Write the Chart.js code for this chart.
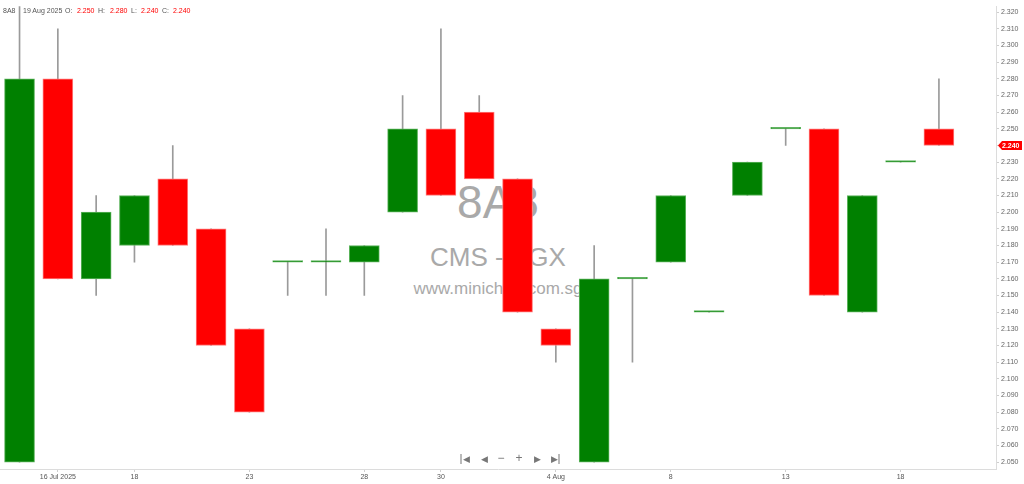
<!DOCTYPE html>
<html>
<head>
<meta charset="utf-8">
<title>8A8 CMS - SGX</title>
<script src="https://cdn.jsdelivr.net/npm/chart.js@4.4.1/dist/chart.umd.min.js"></script>
<style>
    html, body { margin: 0; padding: 0; background: #fff; }
    #wrap { position: relative; width: 1024px; height: 484px; overflow: hidden; font-family: "Liberation Sans", Arial, sans-serif; }
    #chart { position: absolute; left: 0; top: 0; z-index: 1; }
    .wm { position: absolute; left: 0; width: 996px; text-align: center; color: #a9a9a9; white-space: nowrap; z-index: 0; }
    .hd { position: absolute; top: 6px; font-size: 7px; line-height: 10px; color: #555; z-index: 2; white-space: nowrap; }
    .hd.val { color: #ff0000; }
    .nav { position: absolute; top: 454px; font-size: 9px; line-height: 10px; color: #777; z-index: 2; transform: translateX(-50%); }
    .nav.big { font-size: 12px; top: 453px; }
    .nav.bar-l { border-left: 1.5px solid #777; padding-left: 1px; }
    .nav.bar-r { border-right: 1.5px solid #777; padding-right: 1px; }
</style>
</head>
<body>
<div id="wrap">
    <div class="wm" style="top:179px;font-size:46px;line-height:46px;">8A8</div>
    <div class="wm" style="top:244px;font-size:26px;line-height:26px;">CMS - SGX</div>
    <div class="wm" style="top:280px;font-size:17px;line-height:17px;">www.minichart.com.sg</div>

    <span class="hd" style="left:3px;">8A8</span>
    <span class="hd" id="hd-date" style="left:23px;"></span>
    <span class="hd" style="left:65px;">O:</span>
    <span class="hd val" id="hd-o" style="left:77px;"></span>
    <span class="hd" style="left:98px;">H:</span>
    <span class="hd val" id="hd-h" style="left:110px;"></span>
    <span class="hd" style="left:131px;">L:</span>
    <span class="hd val" id="hd-l" style="left:141px;"></span>
    <span class="hd" style="left:162px;">C:</span>
    <span class="hd val" id="hd-c" style="left:173px;"></span>

    <span class="nav bar-l" style="left:465px;">◀</span>
    <span class="nav" style="left:484px;">◀</span>
    <span class="nav big" style="left:501px;">−</span>
    <span class="nav big" style="left:519px;">+</span>
    <span class="nav" style="left:537px;">▶</span>
    <span class="nav bar-r" style="left:555px;">▶</span>

    <canvas id="chart" width="1024" height="484"></canvas>
</div>
<script>
    // Daily candles, 15 Jul - 19 Aug 2025
    const dates = ['15 Jul', '16 Jul', '17 Jul', '18 Jul', '21 Jul', '22 Jul', '23 Jul', '24 Jul', '25 Jul',
        '28 Jul', '29 Jul', '30 Jul', '31 Jul', '1 Aug', '4 Aug', '5 Aug', '6 Aug', '8 Aug', '11 Aug',
        '12 Aug', '13 Aug', '14 Aug', '15 Aug', '18 Aug', '19 Aug'];
    const opens  = [2.050, 2.280, 2.160, 2.180, 2.220, 2.190, 2.130, 2.170, 2.170, 2.170, 2.200, 2.250, 2.260,
        2.220, 2.130, 2.050, 2.160, 2.170, 2.140, 2.210, 2.250, 2.250, 2.140, 2.230, 2.250];
    const highs  = [2.330, 2.310, 2.210, 2.210, 2.240, 2.190, 2.130, 2.170, 2.190, 2.180, 2.270, 2.310, 2.270,
        2.220, 2.130, 2.180, 2.160, 2.210, 2.140, 2.230, 2.250, 2.250, 2.210, 2.230, 2.280];
    const lows   = [2.050, 2.160, 2.150, 2.170, 2.180, 2.120, 2.080, 2.150, 2.150, 2.150, 2.200, 2.210, 2.220,
        2.140, 2.110, 2.050, 2.110, 2.170, 2.140, 2.210, 2.240, 2.150, 2.140, 2.230, 2.240];
    const closes = [2.280, 2.160, 2.200, 2.210, 2.180, 2.120, 2.080, 2.170, 2.170, 2.180, 2.250, 2.210, 2.220,
        2.140, 2.120, 2.160, 2.160, 2.210, 2.140, 2.230, 2.250, 2.150, 2.210, 2.230, 2.240];

    // Axis labels
    const xTickIndex  = [1, 3, 6, 9, 11, 14, 17, 20, 23];
    const xTickLabels = ['16 Jul 2025', '18', '23', '28', '30', '4 Aug', '8', '13', '18'];
    const yTickLabels = ['2.050', '2.060', '2.070', '2.080', '2.090', '2.100', '2.110', '2.120', '2.130', '2.140',
        '2.150', '2.160', '2.170', '2.180', '2.190', '2.200', '2.210', '2.220', '2.230', '2.240',
        '2.250', '2.260', '2.270', '2.280', '2.290', '2.300', '2.310', '2.320'];

    const GREEN = '#008000';
    const RED = '#ff0000';
    const FONT = '"Liberation Sans", Arial, sans-serif';
    const last = dates.length - 1;

    // header line
    document.getElementById('hd-date').textContent = dates[last] + ' 2025';
    document.getElementById('hd-o').textContent = opens[last].toFixed(3);
    document.getElementById('hd-h').textContent = highs[last].toFixed(3);
    document.getElementById('hd-l').textContent = lows[last].toFixed(3);
    document.getElementById('hd-c').textContent = closes[last].toFixed(3);

    const isUp = dates.map((d, i) => closes[i] >= opens[i]);

    // red tag with the last close on the price axis
    const lastPriceTag = {
        id: 'lastPriceTag',
        afterDraw(chart) {
            const ctx = chart.ctx;
            const y = chart.scales.y.getPixelForValue(closes[last]);
            const x0 = chart.chartArea.right + 2;
            ctx.save();
            ctx.fillStyle = RED;
            ctx.beginPath();
            ctx.moveTo(x0, y);
            ctx.lineTo(x0 + 4, y - 4.5);
            ctx.lineTo(x0 + 24, y - 4.5);
            ctx.lineTo(x0 + 24, y + 4.5);
            ctx.lineTo(x0 + 4, y + 4.5);
            ctx.closePath();
            ctx.fill();
            ctx.fillStyle = '#fff';
            ctx.font = 'bold 7px ' + FONT;
            ctx.textBaseline = 'middle';
            ctx.fillText(closes[last].toFixed(3), x0 + 4, y + 0.5);
            ctx.restore();
        }
    };

    new Chart(document.getElementById('chart'), {
        type: 'bar',
        data: {
            datasets: [
                {
                    label: 'Body',
                    data: dates.map((d, i) => ({ x: i, y: [opens[i], closes[i]] })),
                    backgroundColor: isUp.map(u => u ? GREEN : RED),
                    borderColor: isUp.map(u => u ? '#5cb35c' : '#ff7a7a'),
                    borderWidth: 1,
                    borderSkipped: false,
                    barThickness: 30,
                    minBarLength: 1.5,
                    grouped: false,
                    order: 1
                },
                {
                    label: 'Wick',
                    data: dates.map((d, i) => ({ x: i, y: [lows[i], highs[i]] })),
                    backgroundColor: '#9a9a9a',
                    borderWidth: 0,
                    barThickness: 1,
                    grouped: false,
                    order: 2
                }
            ]
        },
        options: {
            responsive: false,
            animation: false,
            layout: { padding: 0 },
            plugins: {
                legend: { display: false },
                tooltip: { enabled: false }
            },
            scales: {
                x: {
                    type: 'linear',
                    min: -0.51,
                    max: 25.49,
                    offset: false,
                    afterBuildTicks: s => { s.ticks = xTickIndex.map(v => ({ value: v })); },
                    afterFit: s => { s.height = 15; },
                    ticks: {
                        autoSkip: false,
                        maxRotation: 0,
                        padding: 1,
                        color: '#555',
                        font: { size: 7, family: FONT },
                        callback: (v) => xTickLabels[xTickIndex.indexOf(v)]
                    },
                    grid: { drawOnChartArea: false, offset: false, tickLength: 3, color: '#cfcfcf' },
                    border: { color: '#dcdcdc' }
                },
                y: {
                    position: 'right',
                    min: 2.0459,
                    max: 2.3236,
                    afterBuildTicks: s => { s.ticks = yTickLabels.map(t => ({ value: parseFloat(t) })); },
                    afterFit: s => { s.width = 28; },
                    ticks: {
                        padding: 2,
                        color: '#666',
                        font: { size: 7, family: FONT },
                        callback: (v) => v.toFixed(3)
                    },
                    grid: { drawOnChartArea: false, tickLength: 3, color: '#cfcfcf' },
                    border: { color: '#dcdcdc' }
                }
            }
        },
        plugins: [lastPriceTag]
    });
</script>
</body>
</html>
